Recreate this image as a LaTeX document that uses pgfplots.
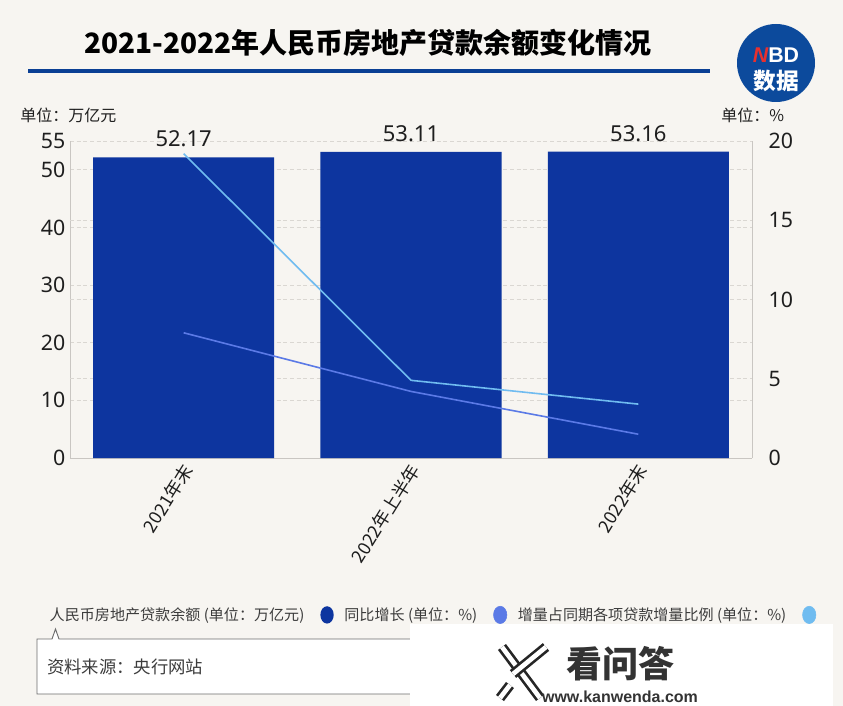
\documentclass[border=0pt]{standalone}
\usepackage{fontspec}
\usepackage{pgfplots}
\usepackage{pgfplotstable}
\pgfplotsset{compat=1.18}
\setmainfont{Noto Sans CJK SC}
\newfontfamily\numfont{Noto Sans}
\newfontfamily\logofont{Liberation Sans}

\definecolor{bgc}{HTML}{F7F5F1}
\definecolor{barblue}{HTML}{0D359F}
\definecolor{midblue}{HTML}{5B7AE6}
\definecolor{lightblue}{HTML}{70BCF0}
\definecolor{titleblue}{HTML}{0A3F94}
\definecolor{logoblue}{HTML}{0C4A9C}
\definecolor{logored}{HTML}{E8302E}
\definecolor{gridc}{HTML}{DAD7D2}
\definecolor{axisc}{HTML}{C9C6C2}
\definecolor{txt}{HTML}{1E1E1E}
\definecolor{legtxt}{HTML}{3C3C3C}

% 人民币房地产贷款余额, 万亿元
\pgfplotstableread{
x bal
0 52.17
1 53.11
2 53.16
}\baltab
% 同比增长 / 增量占同期各项贷款增量比例, %
\pgfplotstableread{
x yoy share
0 7.9 19.2
1 4.2 4.9
2 1.5 3.4
}\ratetab

\newcommand\fs[1]{\fontsize{#1}{#1}\selectfont}

\begin{document}
\begin{tikzpicture}
% 1px = 0.75pt, y downwards
\begin{scope}[x=0.75pt,y=-0.75pt]
  \fill[bgc] (0,0) rectangle (843,706);
  \node[font=\fs{21}\bfseries, text=black] at (368,43) {2021-2022年人民币房地产贷款余额变化情况};
  \draw[titleblue, line width=3pt] (28,71) -- (710,71);
  % NBD logo
  \fill[logoblue] (776,63) circle (39);
  \node[font=\logofont\fs{16}\bfseries, inner sep=0pt] at (776,55) {{\color{logored}\itshape N}{\color{white}BD}};
  \node[font=\fs{17}\bfseries, text=white, inner sep=0pt] at (776,81) {数据};
  % units
  \node[anchor=west, font=\fs{12}, text=txt, inner sep=0pt] at (20,115) {单位：万亿元};
  \node[anchor=west, font=\fs{12}, text=txt, inner sep=0pt] at (721,115) {单位：\%};
  % source box
  \draw[fill=white, draw=gray!85!black, line width=0.7pt]
    (37,639) -- (52,639) -- (55.5,629) -- (59,639) -- (430,639) -- (430,694) -- (37,694) -- cycle;
  \node[anchor=west, font=\fs{13}, text=legtxt, inner sep=0pt] at (47,667) {资料来源：央行网站};
  % kanwenda box
  \fill[white] (410,624) rectangle (833,706);
  \begin{scope}[line cap=butt]
    \foreach \a/\b in {{(502,647)}/{(540,698)}, {(546,647)}/{(513,674)}, {(500,698)}/{(510,685)}} {
      \draw[black!85, line width=7.5pt] \a -- \b;
      \draw[white, line width=3.5pt] \a -- \b;
    }
  \end{scope}
  \node[font=\fs{27}\bfseries, text=black!80, inner sep=0pt] at (620,664) {看问答};
  \node[font=\logofont\fs{12}\bfseries, text=black!80, inner sep=0pt] at (620,697) {www.kanwenda.com};
\end{scope}

\begin{axis}[
  at={(52.5pt,-343.5pt)}, anchor=south west,
  scale only axis, width=511.5pt, height=237.75pt,
  xmin=-0.5, xmax=2.5, ymin=0, ymax=55,
  axis x line*=bottom, axis y line*=left,
  axis line style={axisc, line width=0.6pt},
  major tick length=0pt,
  xtick={0,1,2}, xticklabels={2021年末,2022年上半年,2022年末},
  xticklabel style={rotate=58, anchor=east, font=\fs{13.5}, text=txt, yshift=-6pt},
  ytick={0,10,20,30,40,50,55},
  extra y ticks={13.75,27.5,41.25}, extra y tick labels={},
  extra y tick style={grid=major},
  yticklabel style={font=\numfont\fs{16}, text=txt},
  /pgf/number format/assume math mode=true,
  ymajorgrids, grid style={gridc, dash pattern=on 3pt off 2pt, line width=0.6pt},
  legend plot pos=right,
  legend cell align=left,
  legend columns=3,
  legend style={at={(-0.034,-0.495)}, anchor=west, draw=none, fill=none,
    inner sep=0pt, font=\fs{11.3}, text=legtxt,
    /tikz/every even column/.append style={column sep=6pt},
    /tikz/every odd column/.append style={column sep=10pt}},
]
\addplot[ybar, bar width=135.75pt, fill=barblue, draw=none,
  nodes near coords={\pgfmathprintnumber[fixed,fixed zerofill,precision=2]{\pgfplotspointmeta}},
  every node near coord/.append style={font=\numfont\fs{16.5}, text=txt, anchor=south, yshift=4pt},
  legend image code/.code={\fill[barblue] (0pt,0pt) ellipse[x radius=5pt, y radius=6.5pt];}]
  table[x=x,y=bal]{\baltab};
\addlegendentry{人民币房地产贷款余额 (单位：万亿元)}
\addlegendimage{legend image code/.code={\fill[midblue] (0pt,0pt) ellipse[x radius=5pt, y radius=6.5pt];}}
\addlegendentry{同比增长 (单位：\%)}
\addlegendimage{legend image code/.code={\fill[lightblue] (0pt,0pt) ellipse[x radius=5pt, y radius=6.5pt];}}
\addlegendentry{增量占同期各项贷款增量比例 (单位：\%)}
\end{axis}

\begin{axis}[
  at={(52.5pt,-343.5pt)}, anchor=south west,
  scale only axis, width=511.5pt, height=237.75pt,
  xmin=-0.5, xmax=2.5, ymin=0, ymax=20,
  axis x line=none, axis y line*=right,
  axis line style={axisc, line width=0.6pt},
  major tick length=0pt,
  ytick={0,5,10,15,20},
  yticklabel style={font=\numfont\fs{16}, text=txt, xshift=9pt},
  /pgf/number format/assume math mode=true,
]
\addplot[midblue, line width=1.2pt] table[x=x,y=yoy]{\ratetab};
\addplot[lightblue, line width=1.2pt] table[x=x,y=share]{\ratetab};
\end{axis}
\end{tikzpicture}
\end{document}
